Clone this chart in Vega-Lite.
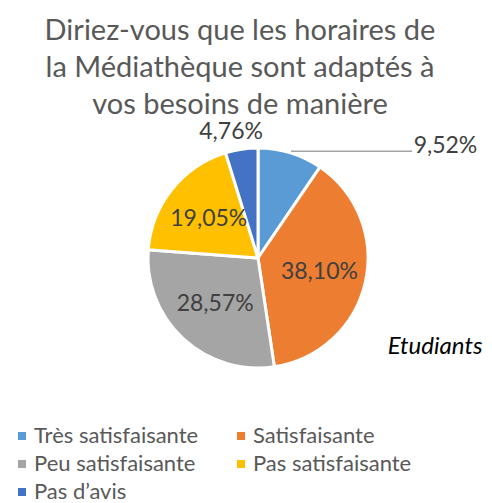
{
  "$schema": "https://vega.github.io/schema/vega-lite/v6.json",
  "width": 468,
  "height": 220,
  "autosize": {"type": "none"},
  "padding": {"left": 24, "right": 0, "top": 148, "bottom": 135},
  "background": "white",
  "config": {"view": {"stroke": null}, "font": "Lato"},
  "title": {
    "text": ["Diriez-vous que les horaires de", "la Médiathèque sont adaptés à", "vos besoins de manière"],
    "anchor": "middle",
    "frame": "group",
    "dx": -18,
    "offset": 1,
    "fontSize": 29,
    "lineHeight": 37,
    "font": "Lato",
    "fontWeight": "normal",
    "color": "#595959"
  },
  "layer": [
    {
      "data": {"values": [
        {"reponse": "Très satisfaisante", "part": 9.52, "label": "9,52%", "ordre": 1},
        {"reponse": "Satisfaisante", "part": 38.10, "label": "38,10%", "ordre": 2},
        {"reponse": "Peu satisfaisante", "part": 28.57, "label": "28,57%", "ordre": 3},
        {"reponse": "Pas satisfaisante", "part": 19.05, "label": "19,05%", "ordre": 4},
        {"reponse": "Pas d’avis", "part": 4.76, "label": "4,76%", "ordre": 5}
      ]},
      "encoding": {
        "theta": {"field": "part", "type": "quantitative", "stack": true},
        "order": {"field": "ordre", "type": "quantitative"}
      },
      "layer": [
        {
          "mark": {"type": "arc", "outerRadius": 110, "stroke": "white", "strokeWidth": 3},
          "encoding": {
            "color": {
              "field": "reponse",
              "type": "nominal",
              "scale": {
                "domain": ["Très satisfaisante", "Satisfaisante", "Peu satisfaisante", "Pas satisfaisante", "Pas d’avis"],
                "range": ["#5B9BD5", "#ED7D31", "#A5A5A5", "#FFC000", "#4472C4"]
              },
              "legend": {
                "title": null,
                "orient": "none",
                "direction": "horizontal",
                "legendX": -13,
                "legendY": 277,
                "columns": 2,
                "symbolType": "square",
                "symbolSize": 64,
                "symbolStrokeWidth": 0,
                "labelFontSize": 22,
                "labelFont": "Lato",
                "labelColor": "#595959",
                "labelLimit": 400,
                "labelOffset": 1,
                "rowPadding": 6,
                "columnPadding": 31
              }
            }
          }
        },
        {
          "mark": {"type": "text", "radius": 63, "fontSize": 23, "fill": "#404040", "font": "Lato"},
          "encoding": {
            "text": {"field": "label"},
            "opacity": {"condition": {"test": "datum.ordre >= 2 && datum.ordre <= 4", "value": 1}, "value": 0}
          }
        },
        {
          "mark": {"type": "text", "radius": 127, "dx": -8, "fontSize": 23, "fill": "#404040", "font": "Lato"},
          "encoding": {
            "text": {"field": "label"},
            "opacity": {"condition": {"test": "datum.ordre == 5", "value": 1}, "value": 0}
          }
        },
        {
          "mark": {"type": "text", "radius": 117, "dx": 153, "fontSize": 23, "fill": "#404040", "font": "Lato"},
          "encoding": {
            "text": {"field": "label"},
            "opacity": {"condition": {"test": "datum.ordre == 1", "value": 1}, "value": 0}
          }
        }
      ]
    },
    {
      "data": {"values": [{"x1": 0.30, "x2": 1.40, "y": 0.97}]},
      "mark": {"type": "rule", "stroke": "#A5A5A5", "strokeWidth": 1.5},
      "encoding": {
        "x": {"field": "x1", "type": "quantitative", "scale": {"domain": [-2.127, 2.127], "nice": false, "zero": false}, "axis": null},
        "x2": {"field": "x2"},
        "y": {"field": "y", "type": "quantitative", "scale": {"domain": [-1, 1], "nice": false, "zero": false}, "axis": null}
      }
    },
    {
      "data": {"values": [{"note": "Etudiants", "x": 1.61, "y": -0.81}]},
      "mark": {"type": "text", "fontSize": 24, "fontStyle": "italic", "fill": "#000000", "font": "Lato"},
      "encoding": {
        "x": {"field": "x", "type": "quantitative", "scale": {"domain": [-2.127, 2.127], "nice": false, "zero": false}, "axis": null},
        "y": {"field": "y", "type": "quantitative", "scale": {"domain": [-1, 1], "nice": false, "zero": false}, "axis": null},
        "text": {"field": "note"}
      }
    }
  ]
}
